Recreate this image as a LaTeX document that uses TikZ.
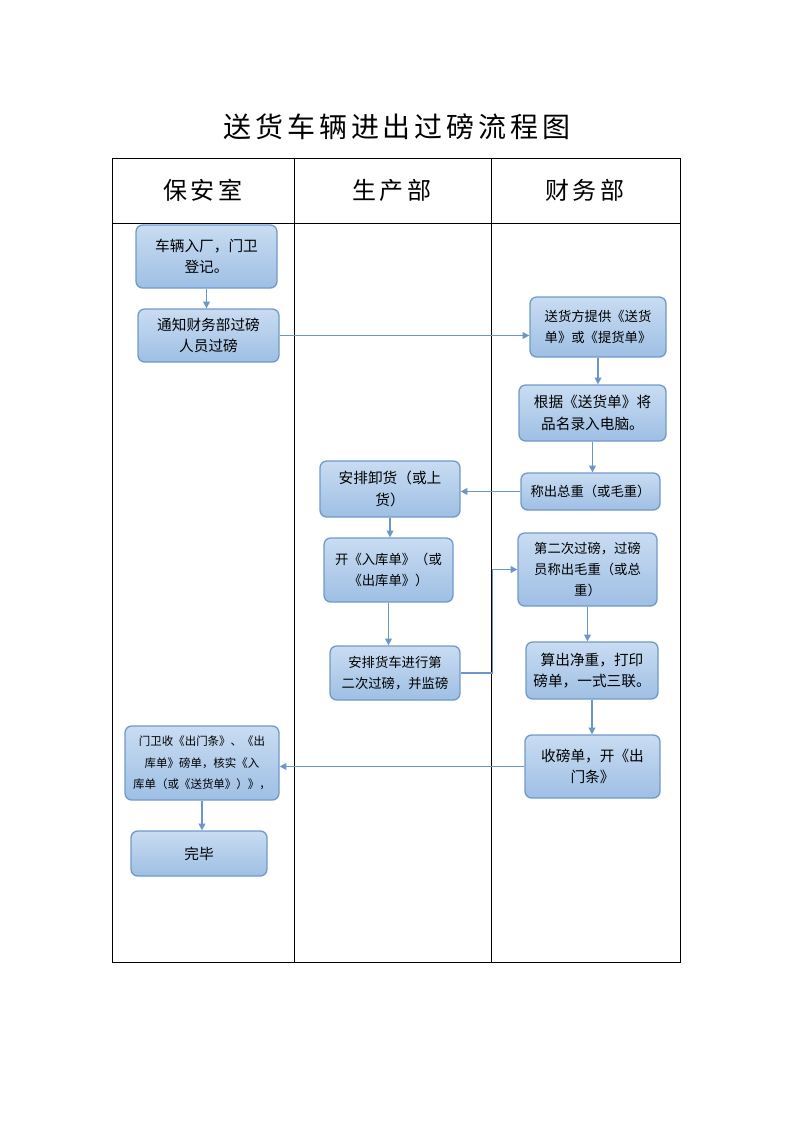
\documentclass[tikz,border=0pt]{standalone}
\usepackage{fontspec}
\newfontfamily\cjk{Noto Sans CJK SC}
\newfontfamily\cjkwide[LetterSpace=14]{Noto Sans CJK SC}
\usetikzlibrary{arrows.meta, calc}

\definecolor{boxtop}{HTML}{C9DCF2}
\definecolor{boxbot}{HTML}{9EBFE4}
\definecolor{boxline}{HTML}{7199C8}
\definecolor{flowline}{HTML}{6B96C7}

\tikzset{
    stepbox/.style={rounded corners=5pt, draw=boxline, line width=1pt,
        top color=boxtop, bottom color=boxbot, align=center,
        font=\cjk\fontsize{11}{16}\selectfont, inner sep=1pt},
    smalltext/.style={font=\cjk\fontsize{10}{16}\selectfont},
    flow/.style={draw=flowline, line width=1.1pt, -{Triangle[length=5pt,width=5pt]}},
}

\begin{document}
\begin{tikzpicture}[x=0.75pt, y=-0.75pt]
                \useasboundingbox (0,0) rectangle (793,1122);

                % title and table
                \node (title) at (397,127) {\cjkwide\fontsize{21}{24}\selectfont 送货车辆进出过磅流程图};
                \draw[line width=0.75pt] (112,158) rectangle (680,962);
                \draw[line width=0.75pt] (112,223) -- (680,223);
                \foreach \x in {294, 491}
                    \draw[line width=0.75pt] (\x,158) -- (\x,962);
                \foreach \x/\name in {203/保安室, 392/生产部, 585/财务部}
                    \node at (\x,190) {\cjkwide\fontsize{18}{20}\selectfont \name};

                % steps
                \node[stepbox, minimum width=141*0.75pt, minimum height=63*0.75pt] (enter) at (206.5,256.5) {车辆入厂，门卫\\登记。};
                \node[stepbox, minimum width=141*0.75pt, minimum height=53*0.75pt] (notify) at (208.5,335.5) {通知财务部过磅\\人员过磅};
                \node[stepbox, smalltext, minimum width=136*0.75pt, minimum height=60*0.75pt] (bill) at (598,327) {送货方提供《送货\\单》或《提货单》};
                \node[stepbox, minimum width=147*0.75pt, minimum height=56*0.75pt] (input) at (592.5,413) {根据《送货单》将\\品名录入电脑。};
                \node[stepbox, smalltext, minimum width=139*0.75pt, minimum height=37*0.75pt] (gross) at (590.5,491.5) {称出总重（或毛重）};
                \node[stepbox, minimum width=140*0.75pt, minimum height=56*0.75pt] (unload) at (390,489) {安排卸货（或上\\货）};
                \node[stepbox, smalltext, minimum width=129*0.75pt, minimum height=64*0.75pt] (store) at (388.5,570) {开《入库单》（或\\《出库单》）};
                \node[stepbox, smalltext, minimum width=130*0.75pt, minimum height=54*0.75pt] (again) at (395,673) {安排货车进行第\\二次过磅，并监磅};
                \node[stepbox, smalltext, minimum width=139*0.75pt, minimum height=73*0.75pt] (second) at (587.5,569.5) {第二次过磅，过磅\\员称出毛重（或总\\重）};
                \node[stepbox, minimum width=132*0.75pt, minimum height=57*0.75pt] (net) at (592,670.5) {算出净重，打印\\磅单，一式三联。};
                \node[stepbox, minimum width=135*0.75pt, minimum height=63*0.75pt] (slip) at (592.5,766.5) {收磅单，开《出\\门条》};
                \node[stepbox, font=\cjk\fontsize{8.6}{16}\selectfont, minimum width=154*0.75pt, minimum height=74*0.75pt] (check) at (202,763) {门卫收《出门条》、《出\\库单》磅单，核实《入\\库单（或《送货单》）》，};
                \node[stepbox, minimum width=136*0.75pt, minimum height=45*0.75pt] (done) at (199,853.5) {完毕};

                % connectors
                \draw[flow] (enter.south) -- (enter.south |- notify.north);
                \draw[flow] (notify.east) -- (notify.east -| bill.west);
                \draw[flow] (bill.south) -- (bill.south |- input.north);
                \draw[flow] (input.south) -- (input.south |- gross.north);
                \draw[flow] (gross.west) -- (gross.west -| unload.east);
                \draw[flow] (unload.south) -- (unload.south |- store.north);
                \draw[flow] (store.south) -- (store.south |- again.north);
                \draw[flow] (again.east) -- ++(32,0) |- (second.west);
                \draw[flow] (second.south) -- (second.south |- net.north);
                \draw[flow] (net.south) -- (net.south |- slip.north);
                \draw[flow] (slip.west) -- (slip.west -| check.east);
                \draw[flow] (check.south) -- (check.south |- done.north);
\end{tikzpicture}
\end{document}
